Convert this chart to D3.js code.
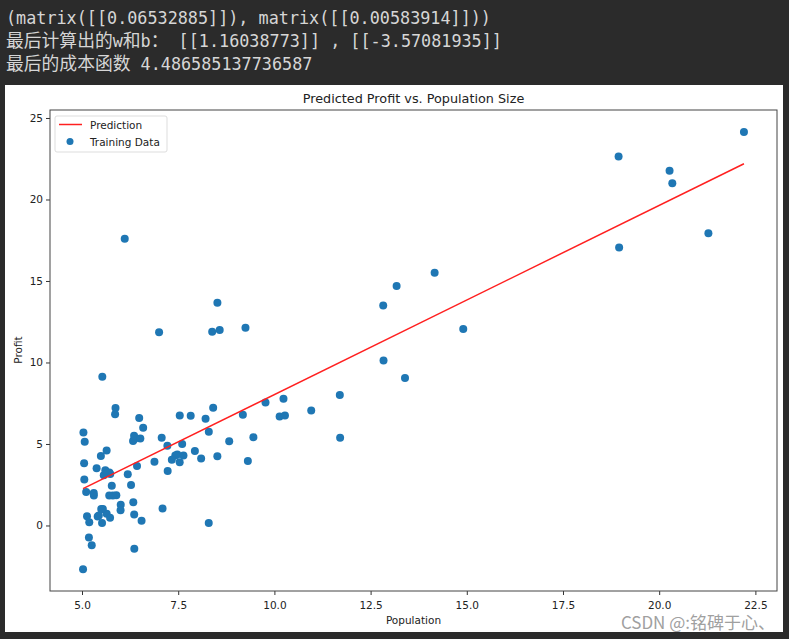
<!DOCTYPE html>
<html>
<head>
<meta charset="utf-8">
<script src="https://cdn.jsdelivr.net/npm/d3@7"></script>
<style>
  html, body { margin: 0; padding: 0; background: #2b2b2b; }
  svg { display: block; }
</style>
</head>
<body>
<div id="chart"></div>
<script>
// console output printed above the figure
var outputLines = [
  [["(matrix([[0.06532885]]), matrix([[0.00583914]]))", "m"]],
  [["最后计算出的", "c"], ["w", "m"], ["和", "c"], ["b", "m"], ["：", "c"], [" [[1.16038773]] , [[-3.57081935]]", "m"]],
  [["最后的成本函数", "c"], [" 4.486585137736587", "m"]]
];

// training data (population, profit)
var population = [6.1101, 5.5277, 8.5186, 7.0032, 5.8598, 8.3829, 7.4764, 8.5781, 6.4862, 5.0546,
  5.7107, 14.164, 5.734, 8.4084, 5.6407, 5.3794, 6.3654, 5.1301, 6.4296, 7.0708,
  6.1891, 20.27, 5.4901, 6.3261, 5.5649, 18.945, 12.828, 10.957, 13.176, 22.203,
  5.2524, 6.5894, 9.2482, 5.8918, 8.2111, 7.9334, 8.0959, 5.6063, 12.836, 6.3534,
  5.4069, 6.8825, 11.708, 5.7737, 7.8247, 7.0931, 5.0702, 5.8014, 11.7, 5.5416,
  7.5402, 5.3077, 7.4239, 7.6031, 6.3328, 6.3589, 6.2742, 5.6397, 9.3102, 9.4536,
  8.8254, 5.1793, 21.279, 14.908, 18.959, 7.2182, 8.2951, 10.236, 5.4994, 20.341,
  10.136, 7.3345, 6.0062, 7.2259, 5.0269, 6.5479, 7.5386, 5.0365, 10.274, 5.1077,
  5.7292, 5.1884, 6.3557, 9.7687, 6.5159, 8.5172, 9.1802, 6.002, 5.5204, 5.0594,
  5.7077, 7.6366, 5.8707, 5.3054, 8.2934, 13.394, 5.4369];
var profit = [17.592, 9.1302, 13.662, 11.854, 6.8233, 11.886, 4.3483, 12, 6.5987, 3.8166,
  3.2522, 15.505, 3.1551, 7.2258, 0.71618, 3.5129, 5.3048, 0.56077, 3.6518, 5.3893,
  3.1386, 21.767, 4.263, 5.1875, 3.0825, 22.638, 13.501, 7.0467, 14.692, 24.147,
  -1.22, 5.9966, 12.134, 1.8495, 6.5426, 4.5623, 4.1164, 3.3928, 10.117, 5.4974,
  0.55657, 3.9115, 5.3854, 2.4406, 6.7318, 1.0463, 5.1337, 1.844, 8.0043, 1.0179,
  6.7504, 1.8396, 4.2885, 4.9981, 1.4233, -1.4211, 2.4756, 4.6042, 3.9624, 5.4141,
  5.1694, -0.74279, 17.929, 12.054, 17.054, 4.8852, 5.7442, 7.7754, 1.0173, 20.992,
  6.6799, 4.0259, 1.2784, 3.3411, -2.6807, 0.29678, 3.8845, 5.7014, 6.7526, 2.0576,
  0.47953, 0.20421, 0.67861, 7.5435, 5.3436, 4.2415, 6.7981, 0.92695, 0.152, 2.8214,
  1.8451, 4.2959, 7.2029, 1.9869, 0.14454, 9.0551, 0.61705];

// fitted line end points
var predX = [5.0269, 22.203];
var predY = [2.262, 22.193];

var xTicks = [5.0, 7.5, 10.0, 12.5, 15.0, 17.5, 20.0, 22.5];
var yTicks = [0, 5, 10, 15, 20, 25];

var W = 789, H = 639;
var svg = d3.select("#chart").append("svg")
    .attr("width", W)
    .attr("height", H);

svg.append("rect").attr("width", W).attr("height", H).attr("fill", "#2b2b2b");

// console text
var mono = "'DejaVu Sans Mono', 'Liberation Mono', monospace";
var cjk = "'Noto Sans CJK SC', sans-serif";
outputLines.forEach(function(line, i) {
  var t = svg.append("text")
      .attr("x", 6)
      .attr("y", 24 + i * 23)
      .attr("fill", "#d6d6d6")
      .attr("xml:space", "preserve")
      .style("white-space", "pre");
  line.forEach(function(part) {
    t.append("tspan")
      .attr("font-family", part[1] == "c" ? cjk : mono)
      .attr("font-size", part[1] == "c" ? "17.8px" : "16.8px")
      .text(part[0]);
  });
});

// white figure
svg.append("rect")
    .attr("x", 5).attr("y", 85)
    .attr("width", 778).attr("height", 547)
    .attr("fill", "#ffffff");

var margin = {top: 110, right: 12, bottom: 48, left: 50},
    width = 777 - margin.left,
    height = 591 - margin.top;

var x = d3.scaleLinear().domain([4.168, 23.062]).range([0, width]);
var y = d3.scaleLinear().domain([-4.02, 25.49]).range([height, 0]);

var g = svg.append("g")
    .attr("transform", "translate(" + margin.left + "," + margin.top + ")");

var font = "'DejaVu Sans', sans-serif";

// scatter
g.selectAll(".dot")
    .data(population)
  .enter().append("circle")
    .attr("class", "dot")
    .attr("cx", function(d) { return x(d); })
    .attr("cy", function(d, i) { return y(profit[i]); })
    .attr("r", 4)
    .attr("fill", "#1f77b4");

// prediction line
var line = d3.line()
    .x(function(d) { return x(d); })
    .y(function(d, i) { return y(predY[i]); });
g.append("path")
    .datum(predX)
    .attr("d", line)
    .attr("fill", "none")
    .attr("stroke", "#ff2020")
    .attr("stroke-width", 1.5);

// axes
var xAxis = g.append("g")
    .attr("transform", "translate(0," + height + ")")
    .call(d3.axisBottom(x).tickValues(xTicks).tickFormat(d3.format(".1f")).tickSizeInner(4).tickSizeOuter(0));
var yAxis = g.append("g")
    .call(d3.axisLeft(y).tickValues(yTicks).tickFormat(d3.format("d")).tickSizeInner(4).tickSizeOuter(0));
[xAxis, yAxis].forEach(function(a) {
  a.select(".domain").remove();
  a.selectAll("line").attr("stroke", "#333");
  a.selectAll("text").attr("fill", "#222").style("font-family", font).style("font-size", "10.5px");
});
xAxis.selectAll("text").attr("dy", "1.0em");

// frame
g.append("rect")
    .attr("width", width).attr("height", height)
    .attr("fill", "none")
    .attr("stroke", "#444")
    .attr("stroke-width", 1);

// title and labels
svg.append("text")
    .attr("x", margin.left + width / 2).attr("y", 103)
    .attr("text-anchor", "middle")
    .attr("fill", "#222")
    .style("font-family", font).style("font-size", "12.8px")
    .text("Predicted Profit vs. Population Size");
svg.append("text")
    .attr("x", margin.left + width / 2).attr("y", 624)
    .attr("text-anchor", "middle")
    .attr("fill", "#222")
    .style("font-family", font).style("font-size", "10.5px")
    .text("Population");
svg.append("text")
    .attr("transform", "translate(22,350) rotate(-90)")
    .attr("text-anchor", "middle")
    .attr("fill", "#222")
    .style("font-family", font).style("font-size", "10.5px")
    .text("Profit");

// legend
var lg = svg.append("g").attr("transform", "translate(55,116)");
lg.append("rect")
    .attr("width", 112).attr("height", 36)
    .attr("rx", 2)
    .attr("fill", "#fff")
    .attr("stroke", "#ddd");
lg.append("line")
    .attr("x1", 4).attr("x2", 27).attr("y1", 8.5).attr("y2", 8.5)
    .attr("stroke", "#ff2020").attr("stroke-width", 1.5);
lg.append("circle")
    .attr("cx", 15).attr("cy", 25.5).attr("r", 3.5)
    .attr("fill", "#1f77b4");
lg.selectAll(".lab")
    .data(["Prediction", "Training Data"])
  .enter().append("text")
    .attr("x", 35)
    .attr("y", function(d, i) { return 12.5 + i * 17; })
    .attr("fill", "#222")
    .style("font-family", font).style("font-size", "10.5px")
    .text(function(d) { return d; });

// watermark
svg.append("text")
    .attr("x", 775).attr("y", 629)
    .attr("text-anchor", "end")
    .attr("fill", "#a0a0a0")
    .style("font-family", "'Noto Sans CJK SC', sans-serif")
    .style("font-size", "17px")
    .text("CSDN @:铭碑于心、");
</script>
</body>
</html>
